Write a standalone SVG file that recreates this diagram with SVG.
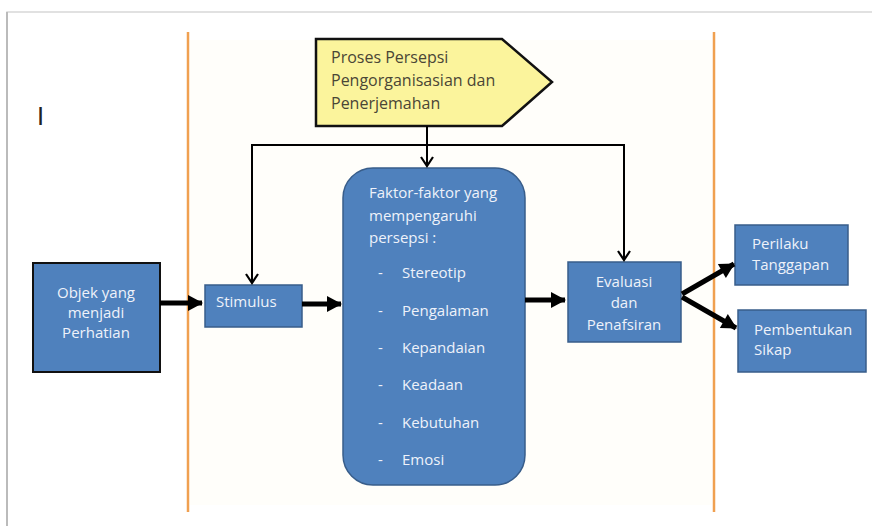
<svg xmlns="http://www.w3.org/2000/svg" width="872" height="526" viewBox="0 0 872 526">
<defs>
<marker id="thin" markerUnits="userSpaceOnUse" markerWidth="16" markerHeight="16" refX="12" refY="8" orient="auto">
<path d="M3,2 L12,8 L3,14" fill="none" stroke="#000" stroke-width="2.2"/>
</marker>
<marker id="thick" markerUnits="userSpaceOnUse" markerWidth="20" markerHeight="20" refX="16" refY="10" orient="auto">
<path d="M2,2 L17,10 L2,18 Z" fill="#000"/>
</marker>
</defs>
<style>
.box{fill:#4f81bd;stroke:#385d8a;stroke-width:1.5}
.boxk{fill:#4f81bd;stroke:#111;stroke-width:2}
.t{font-family:"Open Sans","Liberation Sans",sans-serif;font-size:15px;fill:#eef2fa}
.tc{text-anchor:middle}
.y{font-family:"Open Sans","Liberation Sans",sans-serif;font-size:16px;fill:#4a4636}
.or{stroke:#f0a050;stroke-width:2.5}
.thin{fill:none;stroke:#000;stroke-width:2;marker-end:url(#thin)}
.thk{fill:none;stroke:#000;stroke-width:5;marker-end:url(#thick)}
</style>
<rect x="0" y="0" width="872" height="526" fill="#fff"/>
<rect x="7" y="12" width="870" height="520" fill="#fff" stroke="#d8d8d8" stroke-width="1.5"/>
<line x1="7" y1="12" x2="7" y2="526" stroke="#bbb" stroke-width="2"/>
<rect x="190" y="40" width="522" height="465" fill="#fffefa"/>
<line class="or" x1="188" y1="32" x2="188" y2="512"/>
<line class="or" x1="714" y1="32" x2="714" y2="512"/>
<text x="37" y="125" font-family="DejaVu Sans,sans-serif" font-size="24" fill="#222">I</text>

<g id="proses">
<path d="M316,39 L502,39 L552,82 L502,126 L316,126 Z" fill="#fbf49c" stroke="#111" stroke-width="2.5"/>
<text class="y" x="331" y="63">Proses Persepsi</text>
<text class="y" x="331" y="86">Pengorganisasian dan</text>
<text class="y" x="331" y="109">Penerjemahan</text>
</g>

<g id="objek">
<rect class="boxk" x="33" y="263" width="127" height="109"/>
<text class="t tc" x="96" y="298">Objek yang</text>
<text class="t tc" x="96" y="318">menjadi</text>
<text class="t tc" x="96" y="338">Perhatian</text>
</g>

<g id="stimulus">
<rect class="box" x="205" y="285" width="97" height="42"/>
<text class="t" x="216" y="307">Stimulus</text>
</g>

<g id="faktor">
<rect class="box" x="343" y="168" width="182" height="317" rx="30" ry="30"/>
<text class="t" x="369" y="198">Faktor-faktor yang</text>
<text class="t" x="369" y="221">mempengaruhi</text>
<text class="t" x="369" y="243">persepsi :</text>
<text class="t" x="378" y="278">-</text><text class="t" x="402" y="278">Stereotip</text>
<text class="t" x="378" y="316">-</text><text class="t" x="402" y="316">Pengalaman</text>
<text class="t" x="378" y="353">-</text><text class="t" x="402" y="353">Kepandaian</text>
<text class="t" x="378" y="390">-</text><text class="t" x="402" y="390">Keadaan</text>
<text class="t" x="378" y="428">-</text><text class="t" x="402" y="428">Kebutuhan</text>
<text class="t" x="378" y="465">-</text><text class="t" x="402" y="465">Emosi</text>
</g>

<g id="evaluasi">
<rect class="box" x="568" y="262" width="113" height="80"/>
<text class="t tc" x="624" y="287">Evaluasi</text>
<text class="t tc" x="624" y="308">dan</text>
<text class="t tc" x="624" y="330">Penafsiran</text>
</g>

<g id="perilaku">
<rect class="box" x="735" y="225" width="113" height="60"/>
<text class="t" x="752" y="249">Perilaku</text>
<text class="t" x="752" y="270">Tanggapan</text>
</g>

<g id="sikap">
<rect class="box" x="738" y="310" width="128" height="62"/>
<text class="t" x="754" y="335">Pembentukan</text>
<text class="t" x="754" y="355">Sikap</text>
</g>

<g id="connectors">
<line class="thin" x1="427" y1="126" x2="427" y2="166"/>
<polyline class="thin" points="427,145 252,145 252,283"/>
<polyline class="thin" points="427,145 624,145 624,260"/>
<line class="thk" x1="160" y1="303" x2="202" y2="303"/>
<line class="thk" x1="302" y1="304" x2="341" y2="304"/>
<line class="thk" x1="525" y1="300" x2="565" y2="300"/>
<line class="thk" x1="682" y1="294" x2="734" y2="264"/>
<line class="thk" x1="682" y1="297" x2="736" y2="328"/>
</g>
</svg>
